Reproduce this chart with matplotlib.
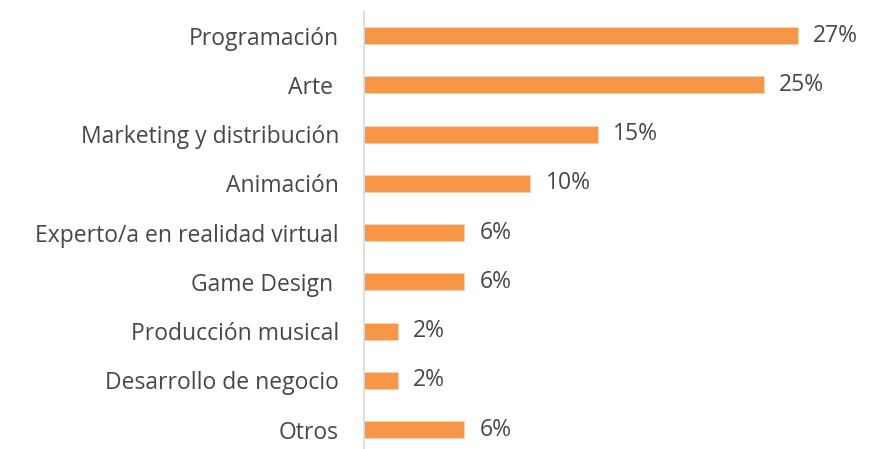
import numpy as np
import matplotlib.pyplot as plt

# categories and shares (%), top to bottom
categorias = ["Programación", "Arte ", "Marketing y distribución", "Animación",
              "Experto/a en realidad virtual", "Game Design ", "Producción musical",
              "Desarrollo de negocio", "Otros"]
valores = [27.1, 25.0, 14.6, 10.4, 6.25, 6.25, 2.1, 2.1, 6.25]
etiquetas = ["27%", "25%", "15%", "10%", "6%", "6%", "2%", "2%", "6%"]

naranja = "#F79646"
gris = "#474747"

plt.rcParams['font.family'] = ['Open Sans', 'DejaVu Sans']

fig = plt.figure(figsize=(8.72, 4.49), dpi=100)
ax = fig.add_axes([364 / 872, 0, 480 / 872, 438 / 449])

y = np.arange(len(categorias))
ax.barh(y, valores, height=0.345, color=naranja, edgecolor="#FAD3B3", linewidth=0.6)

for yi, v, lab in zip(y, valores, etiquetas):
    ax.annotate(lab, (v, yi), xytext=(11, 0), textcoords="offset points",
                va="center", ha="left", fontsize=16.5, color=gris)

ax.set_xlim(0, 30)
ax.set_ylim(8.396, -0.5)
ax.set_yticks(y)
ax.set_yticklabels(categorias, fontsize=16.5, color=gris)
ax.tick_params(axis="y", length=0, pad=18)
ax.set_xticks([])

for s in ["top", "right", "bottom"]:
    ax.spines[s].set_visible(False)
ax.spines["left"].set_color("#D9D9D9")
ax.spines["left"].set_linewidth(1.2)

fig.savefig("out.png", dpi=100)
